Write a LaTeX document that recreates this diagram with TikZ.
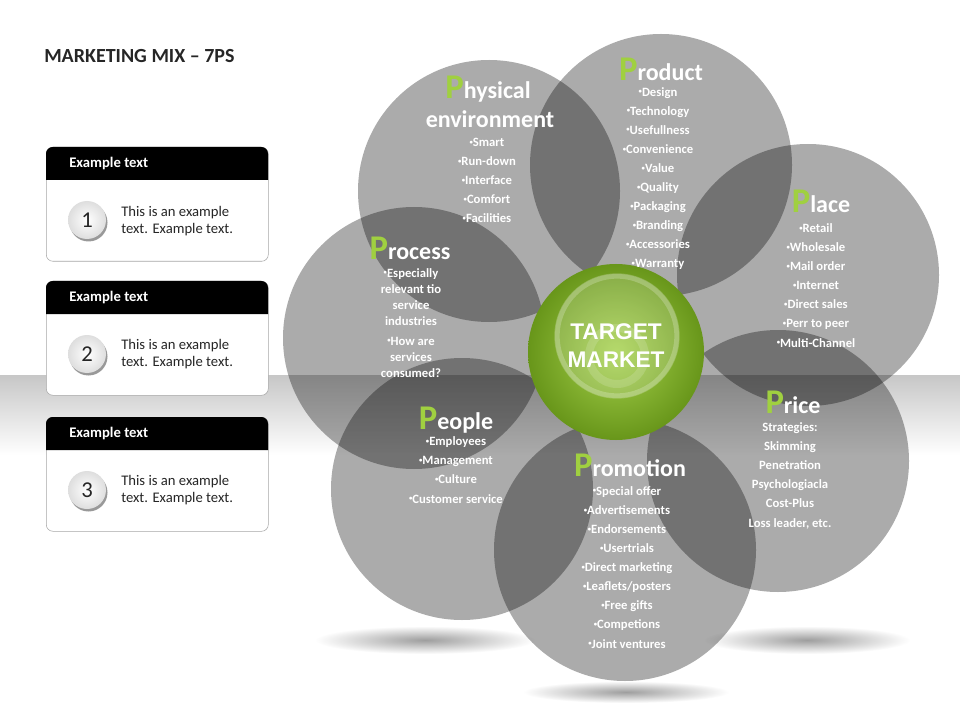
\documentclass[tikz,border=0pt]{standalone}
\usepackage{fontspec}
\setmainfont{Carlito}
\newfontfamily\arialfont{Liberation Sans}
\usepackage{tikz}
\usetikzlibrary{positioning}
\definecolor{pgreen}{RGB}{160,208,64}
\definecolor{titlegray}{RGB}{38,38,38}
\definecolor{hubdark}{RGB}{104,150,26}
\definecolor{hublight}{RGB}{166,210,76}
\newcommand{\bigP}{{\color{pgreen}\fontsize{26}{26}\selectfont P}}
\newcommand{\dotb}{\raisebox{0.2em}{\fontsize{5}{5}\selectfont\textbullet}}
\tikzstyle{petal} = [circle, fill=black, fill opacity=0.33, minimum size=196.5pt, inner sep=0pt]
\tikzstyle{head} = [text=white, font=\bfseries\fontsize{18}{22}\selectfont, inner sep=0pt, anchor=base]
\tikzstyle{items} = [text=white, align=center, font=\bfseries\fontsize{9.5}{14.3}\selectfont, inner sep=0pt, anchor=base]
\tikzstyle{floorshade} = [inner color=black!38, outer color=white]
\tikzstyle{hub} = [circle, inner color=hublight, outer color=hubdark, minimum size=132pt, inner sep=0pt]
\tikzstyle{card} = [rectangle, rounded corners=5pt, draw=black!35, fill=white, minimum width=166.5pt, minimum height=85.5pt, inner sep=0pt, anchor=north west]
\tikzstyle{cardhead} = [text=white, font=\bfseries\fontsize{11}{13}\selectfont, inner sep=0pt, anchor=west]
\tikzstyle{cardbody} = [text=titlegray, align=left, font=\fontsize{11}{12.75}\selectfont, inner sep=0pt, anchor=west]
\tikzstyle{num} = [circle, inner color=white, outer color=black!13, minimum size=28.5pt, inner sep=0pt, text=titlegray, font=\fontsize{17}{17}\selectfont]

\begin{document}
\begin{tikzpicture}[x=0.75pt, y=-0.75pt]
  \useasboundingbox (0,0) rectangle (960,720);
  \fill[white] (0,0) rectangle (960,720);
  \shade[top color=black!22, bottom color=white] (0,375) rectangle (960,455);

  \shade[floorshade] (425,640) ellipse (110 and 14);
  \shade[floorshade] (807,640) ellipse (103 and 14);
  \shade[floorshade] (626,692) ellipse (103 and 11);

  \node[petal] (phys) at (489,191) {};
  \node[petal] (prod) at (661,165) {};
  \node[petal] (place) at (808,275) {};
  \node[petal] (price) at (778,461) {};
  \node[petal] (promo) at (625,550) {};
  \node[petal] (people) at (462,489) {};
  \node[petal] (proc) at (414,338) {};

  \node[hub] (tm) at (616,352) {};
  \fill[white, opacity=0.18] (617,336) circle (62);
  \draw[white, opacity=0.22, line width=4pt] (617,336) circle (60);
  \draw[white, opacity=0.15, line width=6pt] (617,356) circle (28);
  \node[text=white, align=center, font=\arialfont\bfseries\fontsize{17}{21}\selectfont, inner sep=0pt] (tmT) at (616,346) {TARGET\\MARKET};

  \node[head] (physT) at (488,99) {\bigP hysical};
  \node[head] (physT2) at (490,128) {environment};
  \node[items] (physL) at (487,223) {\dotb Smart\\\dotb Run-down\\\dotb Interface\\\dotb Comfort\\\dotb Facilities};

  \node[head] (prodT) at (661,81) {\bigP roduct};
  \node[items] (prodL) at (658,268) {\dotb Design\\\dotb Technology\\\dotb Usefullness\\\dotb Convenience\\\dotb Value\\\dotb Quality\\\dotb Packaging\\\dotb Branding\\\dotb Accessories\\\dotb Warranty};

  \node[head] (placeT) at (821,213) {\bigP lace};
  \node[items] (placeL) at (816,347) {\dotb Retail\\\dotb Wholesale\\\dotb Mail order\\\dotb Internet\\\dotb Direct sales\\\dotb Perr to peer\\\dotb Multi-Channel};

  \node[head] (priceT) at (793,413) {\bigP rice};
  \node[items] (priceL) at (790,527) {Strategies:\\Skimming\\Penetration\\Psychologiacla\\Cost-Plus\\Loss leader, etc.};

  \node[head] (promoT) at (630,476) {\bigP romotion};
  \node[items] (promoL) at (627,648) {\dotb Special offer\\\dotb Advertisements\\\dotb Endorsements\\\dotb Usertrials\\\dotb Direct marketing\\\dotb Leaflets/posters\\\dotb Free gifts\\\dotb Competions\\\dotb Joint ventures};

  \node[head] (peopleT) at (456,429) {\bigP eople};
  \node[items] (peopleL) at (456,503) {\dotb Employees\\\dotb Management\\\dotb Culture\\\dotb Customer service};

  \node[head] (procT) at (410,260) {\bigP rocess};
  \node[items, font=\bfseries\fontsize{9.5}{12}\selectfont] (procL) at (411,377) {\dotb Especially\\relevant tio\\service\\industries\\[3pt]\dotb How are\\services\\consumed?};

  \node[text=titlegray, font=\bfseries\fontsize{15}{18}\selectfont, inner sep=0pt, anchor=base west] (title) at (44,63) {MARKETING MIX -- 7PS};

  \node[card] (c1) at (46,147) {};
  \fill[black] (46,180) [rounded corners=5pt] -- (46,147) -- (268,147) [sharp corners] -- (268,180) -- cycle;
  \node[cardhead] (h1) at (69,164) {Example text};
  \fill[black!40] (88.5,222.5) circle (19);
  \node[num] (n1) at (87,220) {1};
  \node[cardbody] (b1) at (121,221.5) {This is an example\\text. Example text.};

  \node[card] (c2) at (46,281) {};
  \fill[black] (46,314) [rounded corners=5pt] -- (46,281) -- (268,281) [sharp corners] -- (268,314) -- cycle;
  \node[cardhead] (h2) at (69,298) {Example text};
  \fill[black!40] (88.5,356.5) circle (19);
  \node[num] (n2) at (87,354) {2};
  \node[cardbody] (b2) at (121,354.5) {This is an example\\text. Example text.};

  \node[card] (c3) at (46,417) {};
  \fill[black] (46,450) [rounded corners=5pt] -- (46,417) -- (268,417) [sharp corners] -- (268,450) -- cycle;
  \node[cardhead] (h3) at (69,434) {Example text};
  \fill[black!40] (88.5,492.5) circle (19);
  \node[num] (n3) at (87,490) {3};
  \node[cardbody] (b3) at (121,490.5) {This is an example\\text. Example text.};
\end{tikzpicture}
\end{document}
